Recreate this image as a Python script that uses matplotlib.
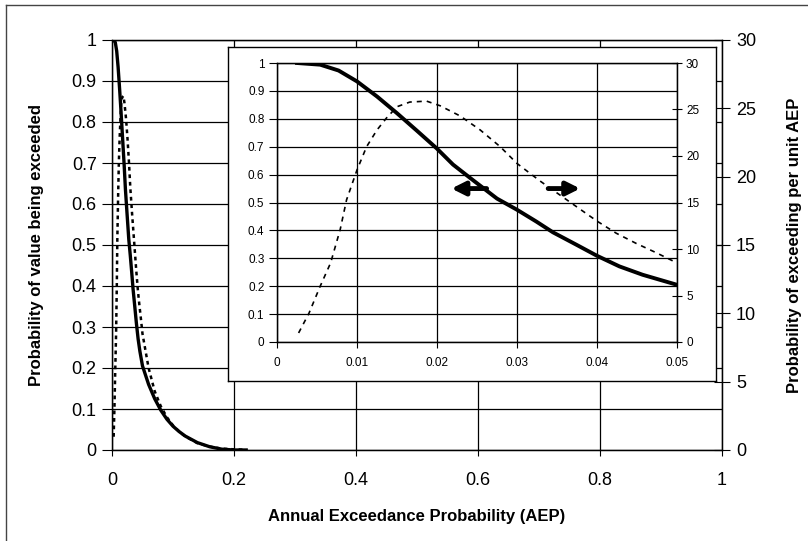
import numpy as np
import matplotlib
matplotlib.use('Agg')
import matplotlib.pyplot as plt
from matplotlib.lines import Line2D

plt.rcParams['font.family'] = ['Liberation Sans', 'DejaVu Sans']

# curve values
inset_aep = [0.0025, 0.0054, 0.0077, 0.01, 0.0125, 0.015, 0.0175, 0.02, 0.022,
             0.0245, 0.0275, 0.03, 0.0324, 0.0345, 0.0374, 0.04, 0.0428, 0.0457, 0.05]
inset_exceed = [1.0, 0.994, 0.973, 0.934, 0.88, 0.82, 0.757, 0.693, 0.636,
                0.58, 0.514, 0.474, 0.432, 0.393, 0.349, 0.309, 0.271, 0.241, 0.205]

dens_aep = [0.0027, 0.004, 0.0054, 0.0067, 0.0079, 0.0087, 0.01, 0.0112, 0.0125,
            0.0137, 0.015, 0.0166, 0.0187, 0.0204, 0.0229, 0.0254, 0.0279, 0.03,
            0.0329, 0.0362, 0.04, 0.0424, 0.0449, 0.0474, 0.05]
dens_value = [0.97, 3.1, 6.0, 8.5, 12.1, 15.3, 18.5, 21.0, 22.8,
              24.1, 25.3, 25.8, 25.9, 25.4, 24.3, 22.8, 21.0, 19.2,
              17.3, 15.3, 13.0, 11.7, 10.6, 9.6, 8.5]

tail_aep = [0.06, 0.07, 0.08, 0.09, 0.1, 0.11, 0.12, 0.14, 0.16, 0.18, 0.2, 0.22]
tail_exceed = [0.16, 0.125, 0.097, 0.075, 0.058, 0.045, 0.034, 0.018, 0.008, 0.002, 0.0, 0.0]
tail_dens = [6.0, 4.3, 3.2, 2.4, 1.8, 1.35, 1.0, 0.5, 0.25, 0.1, 0.05, 0.02]

main_xticks = [0, 0.2, 0.4, 0.6, 0.8, 1]
main_xlabels = ['0', '0.2', '0.4', '0.6', '0.8', '1']
prob_ticks = [0, 0.1, 0.2, 0.3, 0.4, 0.5, 0.6, 0.7, 0.8, 0.9, 1]
prob_labels = ['0', '0.1', '0.2', '0.3', '0.4', '0.5', '0.6', '0.7', '0.8', '0.9', '1']
dens_ticks = [0, 5, 10, 15, 20, 25, 30]
dens_labels = ['0', '5', '10', '15', '20', '25', '30']
inset_xticks = [0, 0.01, 0.02, 0.03, 0.04, 0.05]
inset_xlabels = ['0', '0.01', '0.02', '0.03', '0.04', '0.05']

fig = plt.figure(figsize=(8.08, 5.41), dpi=100)

# outer frame
fig.add_artist(Line2D([6 / 808, 6 / 808], [0, 1 - 5 / 541], color='#444444', lw=1))
fig.add_artist(Line2D([6 / 808, 1], [1 - 5 / 541, 1 - 5 / 541], color='#444444', lw=1))

# main chart
ax = fig.add_axes([112 / 808, 1 - 450 / 541, 610 / 808, 410 / 541])
ax.plot(inset_aep + tail_aep, inset_exceed + tail_exceed, color='black', lw=2.4, zorder=3)
ax.set_xlim(0, 1)
ax.set_ylim(0, 1)
ax.set_xticks(main_xticks)
ax.set_xticklabels(main_xlabels, fontsize=13)
ax.set_yticks(prob_ticks)
ax.set_yticklabels(prob_labels, fontsize=13)
ax.grid(True, color='black', lw=0.9)
ax.tick_params(axis='x', length=4, pad=12, direction='out')
ax.tick_params(axis='y', length=7, pad=4, direction='out')
for s in ax.spines.values():
    s.set_linewidth(1.0)
ax.set_xlabel('Annual Exceedance Probability (AEP)', fontsize=12, fontweight='bold', labelpad=14)
ax.set_ylabel('Probability of value being exceeded', fontsize=12, fontweight='bold', labelpad=20)

ax2 = ax.twinx()
ax2.plot(dens_aep + tail_aep, dens_value + tail_dens, color='black', lw=1.8,
         linestyle=(0, (1.5, 1.5)), zorder=3)
ax2.set_ylim(0, 30)
ax2.set_yticks(dens_ticks)
ax2.set_yticklabels(dens_labels, fontsize=13)
ax2.tick_params(axis='y', length=12, pad=4, direction='inout')
ax2.set_ylabel('Probability of exceeding per unit AEP', fontsize=12, fontweight='bold',
               labelpad=22)

# inset box
box = fig.add_axes([228 / 808, 1 - 381 / 541, 488 / 808, 334 / 541])
box.set_xticks([])
box.set_yticks([])
box.set_facecolor('white')
for s in box.spines.values():
    s.set_linewidth(1.0)

# inset chart
ins = fig.add_axes([277 / 808, 1 - 342 / 541, 400 / 808, 279 / 541])
ins.plot(inset_aep, inset_exceed, color='black', lw=2.8, zorder=3)
ins.set_xlim(0, 0.05)
ins.set_ylim(0, 1)
ins.set_xticks(inset_xticks)
ins.set_xticklabels(inset_xlabels, fontsize=8.5)
ins.set_yticks(prob_ticks)
ins.set_yticklabels(prob_labels, fontsize=8.5)
ins.grid(True, color='black', lw=0.9)
ins.tick_params(axis='x', length=4, pad=7, direction='out')
ins.tick_params(axis='y', length=6, pad=3, direction='out')
for s in ins.spines.values():
    s.set_linewidth(1.0)

ins2 = ins.twinx()
ins2.plot(dens_aep, dens_value, color='black', lw=1.2, linestyle=(0, (3, 3)), zorder=3)
ins2.set_ylim(0, 30)
ins2.set_yticks(dens_ticks)
ins2.set_yticklabels(dens_labels, fontsize=8.5)
ins2.tick_params(axis='y', length=7, pad=3, direction='inout')

# arrows pointing to the matching axes
ins.annotate('', xy=(0.0218, 0.55), xytext=(0.0262, 0.55),
             arrowprops=dict(arrowstyle='-|>', lw=3.5, color='black', mutation_scale=20,
                             shrinkA=0, shrinkB=0), zorder=5)
ins.annotate('', xy=(0.0379, 0.55), xytext=(0.0339, 0.55),
             arrowprops=dict(arrowstyle='-|>', lw=3.5, color='black', mutation_scale=20,
                             shrinkA=0, shrinkB=0), zorder=5)

fig.savefig('out.png', dpi=100)
